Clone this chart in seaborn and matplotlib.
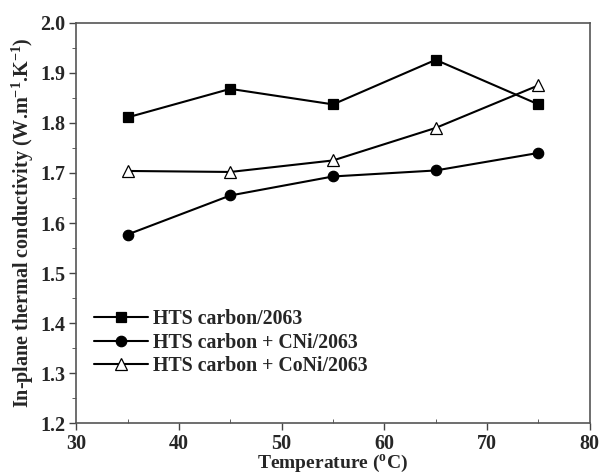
import pandas as pd
import matplotlib
matplotlib.use("Agg")
import matplotlib.pyplot as plt
import seaborn as sns

temperature = [35, 45, 55, 65, 75]
hts_carbon = [1.811, 1.868, 1.837, 1.926, 1.837]
hts_cni = [1.577, 1.655, 1.693, 1.705, 1.740]
hts_coni = [1.704, 1.702, 1.725, 1.790, 1.875]
labels = ["HTS carbon/2063", "HTS carbon + CNi/2063", "HTS carbon + CoNi/2063"]

sns.set_style("ticks")
plt.rcParams["font.family"] = ["Liberation Serif", "DejaVu Serif"]
plt.rcParams["font.weight"] = "bold"
plt.rcParams["mathtext.fontset"] = "custom"
plt.rcParams["mathtext.rm"] = "Liberation Serif:bold"
plt.rcParams["mathtext.it"] = "Liberation Serif:bold"
plt.rcParams["mathtext.bf"] = "Liberation Serif:bold"

df = pd.DataFrame({"T": temperature, labels[0]: hts_carbon,
                   labels[1]: hts_cni, labels[2]: hts_coni})

fig = plt.figure(figsize=(6, 4.75), dpi=100)
ax = fig.add_axes([0.127, 0.109, 0.856, 0.843])

styles = [("s", "black", 7), ("o", "black", 7.5), ("^", "white", 8.5)]
for lab, (mk, fc, ms) in zip(labels, styles):
    sns.lineplot(data=df, x="T", y=lab, ax=ax, label=lab, color="black",
                 marker=mk, markersize=ms,
                 markerfacecolor=fc, markeredgecolor="black",
                 markeredgewidth=0.9, linewidth=1.5)

ax.set_xlim(30, 80)
ax.set_ylim(1.2, 2.0)
ax.set_xticks([30, 40, 50, 60, 70, 80])
ax.set_xticks([35, 45, 55, 65, 75], minor=True)
ax.set_yticks([1.2, 1.3, 1.4, 1.5, 1.6, 1.7, 1.8, 1.9, 2.0])
ax.set_yticks([1.25, 1.35, 1.45, 1.55, 1.65, 1.75, 1.85, 1.95], minor=True)
ax.set_yticklabels([f"{v:.1f}" for v in ax.get_yticks()])
ax.tick_params(axis="both", which="major", labelsize=14.5, length=5,
               direction="out", color="#444444", width=1, pad=3)
ax.tick_params(axis="y", which="minor", length=3, direction="out", color="#444444")
ax.tick_params(axis="x", which="minor", length=3, direction="in", color="#444444")
for lbl in ax.get_xticklabels() + ax.get_yticklabels():
    lbl.set_fontweight("bold")
for sp in ax.spines.values():
    sp.set_visible(True)
    sp.set_color("#555555")
    sp.set_linewidth(1.2)

ax.set_xlabel("Temperature ($^{o}$C)", fontsize=14, fontweight="bold", labelpad=-1)
ax.set_ylabel("In-plane thermal conductivity (W.m$^{-1}$.K$^{-1}$)", fontsize=14.5,
              fontweight="bold", labelpad=3)

leg = ax.legend(loc="upper left", bbox_to_anchor=(0.0, 0.33), frameon=False,
                handlelength=2.7, handletextpad=0.25, labelspacing=0.18,
                prop={"family": "Liberation Serif", "weight": "bold", "size": 14.3})

fig.savefig("out.png", dpi=100)
